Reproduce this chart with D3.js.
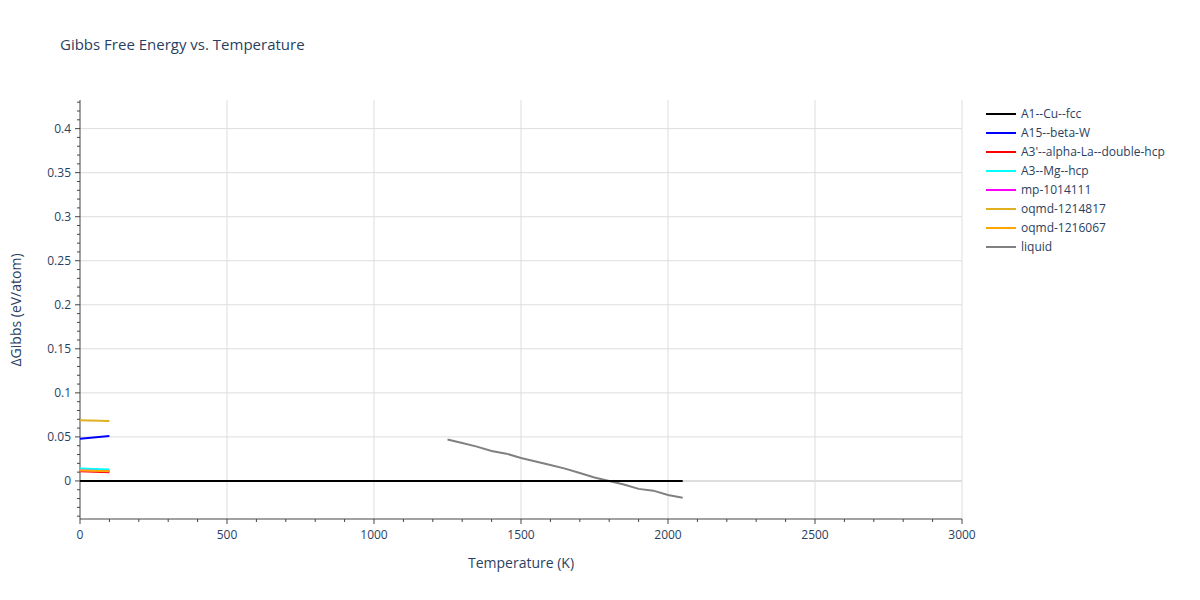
<!DOCTYPE html><html><head><meta charset="utf-8"><script src="https://cdn.jsdelivr.net/npm/d3@7"></script>
<style>body{margin:0;font-family:"Open Sans",sans-serif;}</style></head><body><svg id="c" width="1200" height="600"></svg>
<script>
const seriesNames=["A1--Cu--fcc","A15--beta-W","A3'--alpha-La--double-hcp","A3--Mg--hcp","mp-1014111","oqmd-1214817","oqmd-1216067","liquid"];
const colors=["black","blue","red","cyan","magenta","#e0b020","orange","grey"];
const tShort=[0,100];
const seriesT=[[0,2050],tShort,tShort,tShort,tShort,tShort,tShort,
 [1250,1300,1350,1400,1450,1500,1550,1600,1650,1700,1750,1800,1850,1900,1950,2000,2050]];
const seriesG=[[0,0],[0.048,0.051],[0.011,0.010],[0.014,0.013],[0.012,0.011],[0.069,0.068],[0.012,0.011],
 [0.047,0.043,0.039,0.034,0.031,0.026,0.022,0.018,0.014,0.009,0.004,0.000,-0.004,-0.009,-0.011,-0.016,-0.019]];
const xTicks=[0,500,1000,1500,2000,2500,3000];
const yTicks=[0,0.05,0.1,0.15,0.2,0.25,0.3,0.35,0.4];
const svg=d3.select("#c");
const x=d3.scaleLinear().domain([0,3000]).range([80,962]);
const y=d3.scaleLinear().domain([-0.0432,0.4325]).range([519,100]);
const g=svg.append("g");
const tc="#444", fc="#2a3f5f";
g.selectAll(".gx").data(xTicks.slice(1)).enter().append("line").attr("x1",d=>x(d)).attr("x2",d=>x(d)).attr("y1",100).attr("y2",519).attr("stroke","#ddd");
g.selectAll(".gy").data(yTicks).enter().append("line").attr("x1",80).attr("x2",962).attr("y1",d=>y(d)).attr("y2",d=>y(d)).attr("stroke","#ddd").attr("stroke-width",d=>d===0?2:1);
g.append("line").attr("x1",80).attr("x2",80).attr("y1",100).attr("y2",519).attr("stroke",tc);
g.append("line").attr("x1",80).attr("x2",962).attr("y1",519).attr("y2",519).attr("stroke",tc);
const xMinor=d3.range(0,3001,100), yMinor=d3.range(-0.04,0.431,0.01);
g.selectAll(".mx").data(xMinor).enter().append("line").attr("x1",d=>x(d)).attr("x2",d=>x(d)).attr("y1",519).attr("y2",d=>d%500===0?524:522).attr("stroke",tc);
g.selectAll(".my").data(yMinor).enter().append("line").attr("y1",d=>y(d)).attr("y2",d=>y(d)).attr("x1",80).attr("x2",d=>Math.abs(Math.round(d*100)%5)===0?75:77).attr("stroke",tc);
g.selectAll(".lx").data(xTicks).enter().append("text").attr("x",d=>x(d)).attr("y",539).attr("text-anchor","middle").attr("font-size",12).attr("fill",fc).text(d=>d);
g.selectAll(".ly").data(yTicks).enter().append("text").attr("x",71).attr("y",d=>y(d)+4).attr("text-anchor","end").attr("font-size",12).attr("fill",fc).text(d=>d);
svg.append("text").attr("x",521).attr("y",568).attr("text-anchor","middle").attr("font-size",14).attr("fill",fc).text("Temperature (K)");
svg.append("text").attr("transform","translate(21,310) rotate(-90)").attr("text-anchor","middle").attr("font-size",14).attr("fill",fc).text("ΔGibbs (eV/atom)");
svg.append("text").attr("x",60).attr("y",50).attr("font-size",15).attr("fill",fc).text("Gibbs Free Energy vs. Temperature");
const line=d3.line().x(d=>x(d[0])).y(d=>y(d[1]));
const order=[7,1,2,3,4,5,6,0];
order.forEach(i=>{
 const pts=seriesT[i].map((t,j)=>[t,seriesG[i][j]]);
 svg.append("path").attr("d",line(pts)).attr("fill","none").attr("stroke",colors[i]).attr("stroke-width",2);
});
seriesNames.forEach((n,i)=>{
 const yy=114+i*19;
 svg.append("line").attr("x1",986).attr("x2",1016).attr("y1",yy).attr("y2",yy).attr("stroke",colors[i]).attr("stroke-width",2);
 svg.append("text").attr("x",1021).attr("y",yy+4).attr("font-size",12).attr("fill",fc).text(n);
});
</script></body></html>
